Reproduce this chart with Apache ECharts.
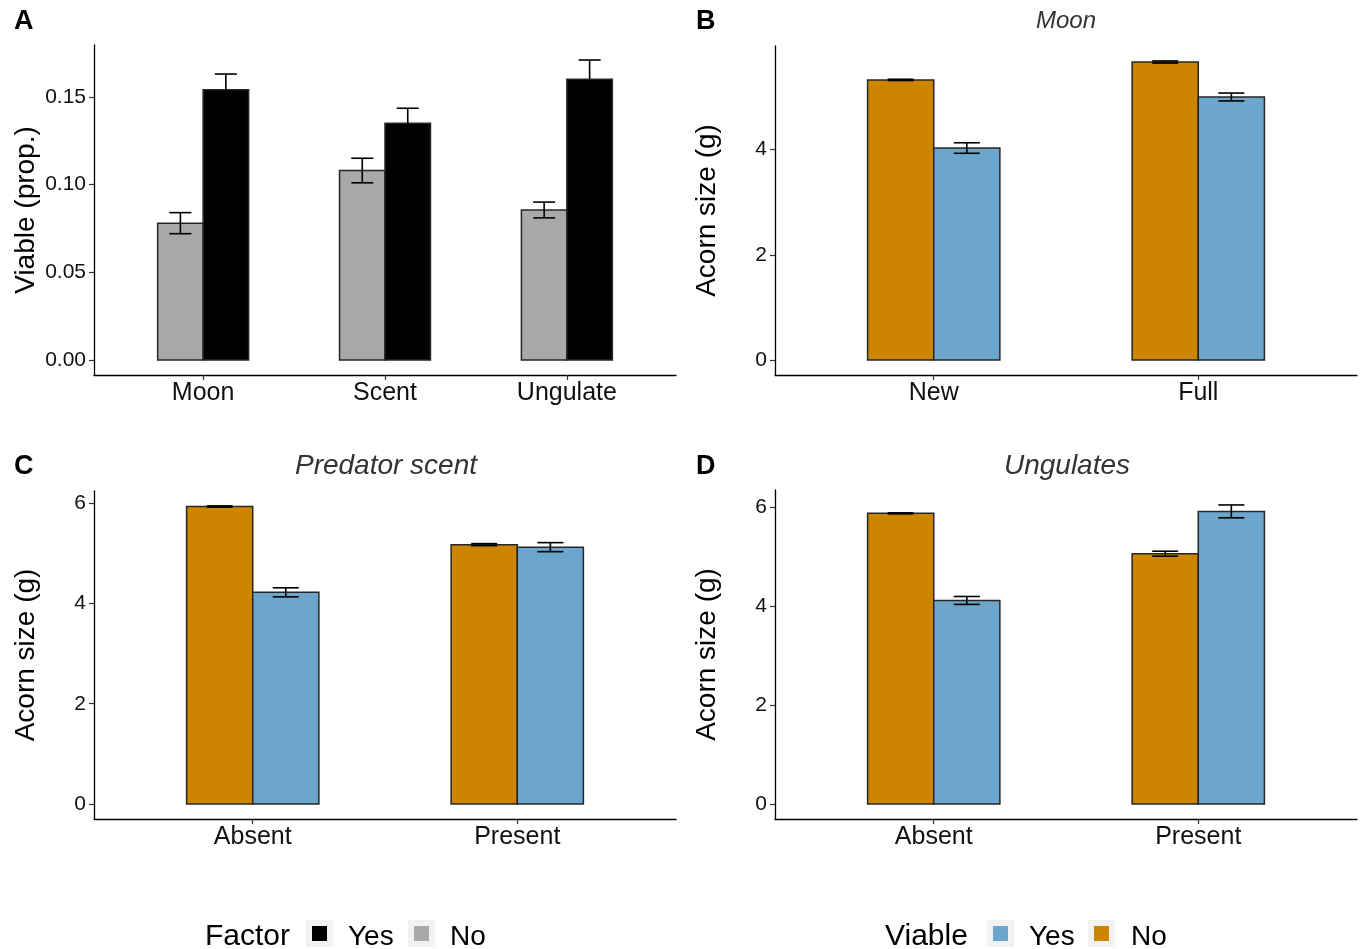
<!DOCTYPE html>
<html><head><meta charset="utf-8">
<script src="https://cdn.jsdelivr.net/npm/echarts@6/dist/echarts.min.js"></script>
<style>html,body{margin:0;padding:0;background:#fff}#chart{width:1363px;height:949px}</style>
</head><body><div id="chart"></div>
<script>
// ---- Panel A: Viable (prop.) by factor ----
const catA = ['Moon', 'Scent', 'Ungulate'];
const aNoMean = [0.078, 0.108, 0.0855];
const aNoSE = [0.006, 0.007, 0.0045];
const aYesMean = [0.154, 0.135, 0.160];
const aYesSE = [0.009, 0.0085, 0.011];
const aTicks = [0, 0.05, 0.10, 0.15];

// ---- Panel B: Moon ----
const catB = ['New', 'Full'];
const bNoMean = [5.325, 5.665];
const bNoSE = [0.012, 0.02];
const bYesMean = [4.03, 5.00];
const bYesSE = [0.10, 0.075];

// ---- Panel C: Predator scent ----
const catC = ['Absent', 'Present'];
const cNoMean = [5.93, 5.17];
const cNoSE = [0.012, 0.02];
const cYesMean = [4.22, 5.12];
const cYesSE = [0.09, 0.09];

// ---- Panel D: Ungulates ----
const catD = ['Absent', 'Present'];
const dNoMean = [5.875, 5.06];
const dNoSE = [0.01, 0.05];
const dYesMean = [4.115, 5.915];
const dYesSE = [0.08, 0.13];

const sizeTicks = [0, 2, 4, 6];

const FONT = '"Liberation Sans", Arial, Helvetica, sans-serif';
const COL = { grey: '#A9A9A9', black: '#000000', orange: '#CD8500', blue: '#6CA6CD' };

const grids = [
  { left: 94, top: 45, width: 582, height: 330 },
  { left: 775, top: 46, width: 582, height: 329 },
  { left: 94, top: 491, width: 582, height: 328 },
  { left: 775, top: 490, width: 582, height: 329 }
];

const panels = [
  { cats: catA, noM: aNoMean, noS: aNoSE, yesM: aYesMean, yesS: aYesSE, ticks: aTicks, fmt: v => v.toFixed(2), name: 'Viable (prop.)', noCol: COL.grey, yesCol: COL.black, cap: 22 },
  { cats: catB, noM: bNoMean, noS: bNoSE, yesM: bYesMean, yesS: bYesSE, ticks: sizeTicks, fmt: v => String(v), name: 'Acorn size (g)', noCol: COL.orange, yesCol: COL.blue, cap: 26 },
  { cats: catC, noM: cNoMean, noS: cNoSE, yesM: cYesMean, yesS: cYesSE, ticks: sizeTicks, fmt: v => String(v), name: 'Acorn size (g)', noCol: COL.orange, yesCol: COL.blue, cap: 26 },
  { cats: catD, noM: dNoMean, noS: dNoSE, yesM: dYesMean, yesS: dYesSE, ticks: sizeTicks, fmt: v => String(v), name: 'Acorn size (g)', noCol: COL.orange, yesCol: COL.blue, cap: 26 }
];

const HALF = 0.125; // half bar width in category units (dodge width 0.5)

function barRenderer(offset, color) {
  return function (params, api) {
    const x = api.value(0) + offset;
    const y = api.value(1);
    const p0 = api.coord([x - HALF, 0]);
    const p1 = api.coord([x + HALF, y]);
    return {
      type: 'rect',
      shape: { x: p0[0], y: p1[1], width: p1[0] - p0[0], height: p0[1] - p1[1] },
      style: { fill: color, stroke: '#262626', lineWidth: 1.5 }
    };
  };
}
function errRenderer(offset, capPx) {
  return function (params, api) {
    const x = api.value(0) + offset;
    const m = api.value(1), s = api.value(2);
    const top = api.coord([x, m + s]);
    const bot = api.coord([x, m - s]);
    const h = capPx / 2;
    const st = { stroke: '#000', lineWidth: 1.6 };
    return {
      type: 'group',
      children: [
        { type: 'line', shape: { x1: top[0], y1: top[1], x2: bot[0], y2: bot[1] }, style: st },
        { type: 'line', shape: { x1: top[0] - h, y1: top[1], x2: top[0] + h, y2: top[1] }, style: st },
        { type: 'line', shape: { x1: bot[0] - h, y1: bot[1], x2: bot[0] + h, y2: bot[1] }, style: st }
      ]
    };
  };
}

const xAxes = [], yAxes = [], series = [];
panels.forEach((p, i) => {
  const n = p.cats.length;
  const idx = p.cats.map((c, k) => k + 1);
  let M = 0;
  p.noM.forEach((v, k) => { M = Math.max(M, v + p.noS[k], p.yesM[k] + p.yesS[k]); });
  const ymin = -0.05 * M, ymax = 1.05 * M;
  const yt = p.ticks.filter(t => t <= ymax);
  xAxes.push({
    type: 'value', gridIndex: i, min: 0.4, max: n + 0.6,
    splitLine: { show: false },
    axisLine: { show: true, onZero: false, lineStyle: { color: '#000', width: 1.3 } },
    axisTick: { show: true, customValues: idx, length: 5, lineStyle: { color: '#333', width: 1.2 } },
    axisLabel: { customValues: idx, formatter: v => p.cats[Math.round(v) - 1], fontSize: 25, color: '#111', fontFamily: FONT, margin: 6 }
  });
  yAxes.push({
    type: 'value', gridIndex: i, min: ymin, max: ymax,
    splitLine: { show: false },
    axisLine: { show: true, onZero: false, lineStyle: { color: '#000', width: 1.3 } },
    axisTick: { show: true, customValues: yt, length: 5, lineStyle: { color: '#333', width: 1.2 } },
    axisLabel: { customValues: yt, formatter: p.fmt, fontSize: 21, color: '#111', fontFamily: FONT, margin: 8 },
    name: p.name, nameLocation: 'middle', nameGap: 54, nameRotate: 90,
    nameTextStyle: { fontSize: 28, color: '#000', fontFamily: FONT }
  });
  const noData = p.noM.map((v, k) => [k + 1, v, p.noS[k]]);
  const yesData = p.yesM.map((v, k) => [k + 1, v, p.yesS[k]]);
  series.push({ type: 'custom', name: 'No', xAxisIndex: i, yAxisIndex: i, data: noData, renderItem: barRenderer(-HALF, p.noCol), z: 2, silent: true });
  series.push({ type: 'custom', name: 'Yes', xAxisIndex: i, yAxisIndex: i, data: yesData, renderItem: barRenderer(HALF, p.yesCol), z: 2, silent: true });
  series.push({ type: 'custom', name: 'No err', xAxisIndex: i, yAxisIndex: i, data: noData, renderItem: errRenderer(-HALF, p.cap), z: 3, silent: true });
  series.push({ type: 'custom', name: 'Yes err', xAxisIndex: i, yAxisIndex: i, data: yesData, renderItem: errRenderer(HALF, p.cap), z: 3, silent: true });
});

function txt(x, y, s, font, fill, align) {
  return { type: 'text', x: x, y: y, style: { text: s, font: font, fill: fill || '#000', textAlign: align || 'left', align: align || 'left', textVerticalAlign: 'middle', verticalAlign: 'middle' } };
}
function key(x, y, color) {
  return [
    { type: 'rect', shape: { x: x, y: y, width: 27, height: 27 }, style: { fill: '#F2F2F2' } },
    { type: 'rect', shape: { x: x + 6, y: y + 6, width: 15, height: 15 }, style: { fill: color } }
  ];
}

const graphics = [
  txt(14, 22, 'A', 'bold 27px ' + FONT),
  txt(696, 22, 'B', 'bold 27px ' + FONT),
  txt(14, 467, 'C', 'bold 27px ' + FONT),
  txt(696, 467, 'D', 'bold 27px ' + FONT),
  txt(1066, 21, 'Moon', 'italic 24px ' + FONT, '#333', 'center'),
  txt(386, 466, 'Predator scent', 'italic 28px ' + FONT, '#333', 'center'),
  txt(1067, 466, 'Ungulates', 'italic 28px ' + FONT, '#333', 'center'),
  txt(205, 937, 'Factor', '30px ' + FONT),
  ...key(306, 920, COL.black),
  txt(348, 937, 'Yes', '28px ' + FONT),
  ...key(408, 920, COL.grey),
  txt(450, 937, 'No', '28px ' + FONT),
  txt(885, 937, 'Viable', '30px ' + FONT),
  ...key(987, 920, COL.blue),
  txt(1029, 937, 'Yes', '28px ' + FONT),
  ...key(1088, 920, COL.orange),
  txt(1131, 937, 'No', '28px ' + FONT)
];

const chart = echarts.init(document.getElementById('chart'), null, { renderer: 'canvas' });
chart.setOption({
  animation: false,
  backgroundColor: '#fff',
  textStyle: { fontFamily: FONT },
  grid: grids,
  xAxis: xAxes,
  yAxis: yAxes,
  series: series,
  graphic: graphics
});
</script></body></html>
